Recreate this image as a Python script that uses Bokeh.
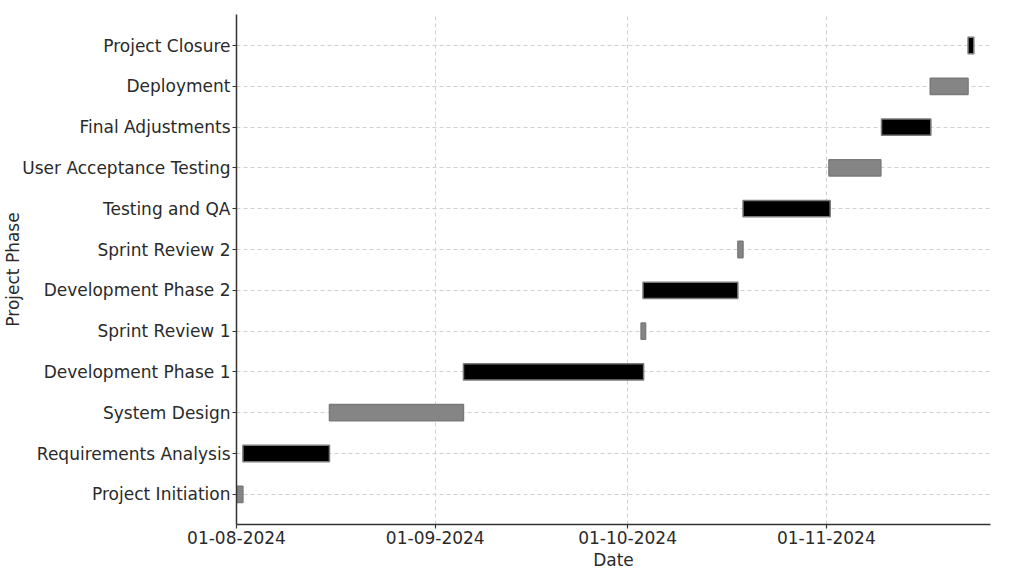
from datetime import datetime, timedelta
import pandas as pd
from bokeh.plotting import figure
from bokeh.models import ColumnDataSource, FixedTicker, DatetimeTickFormatter, Range1d
from bokeh.embed import file_html
from bokeh.resources import INLINE

phases = [
    "Project Initiation", "Requirements Analysis", "System Design",
    "Development Phase 1", "Sprint Review 1", "Development Phase 2",
    "Sprint Review 2", "Testing and QA", "User Acceptance Testing",
    "Final Adjustments", "Deployment", "Project Closure",
]
# days after 2024-08-01
start_days = [0.0, 1.0, 14.5, 35.4, 63.1, 63.4, 78.2, 79.0, 92.4, 100.6, 108.2, 114.1]
end_days = [1.0, 14.5, 35.4, 63.5, 63.8, 78.2, 79.0, 92.6, 100.5, 108.3, 114.1, 115.0]
bar_colors = ["#858585", "#000000", "#858585", "#000000", "#858585", "#000000",
              "#858585", "#000000", "#858585", "#000000", "#858585", "#000000"]
tick_dates = ["2024-08-01", "2024-09-01", "2024-10-01", "2024-11-01"]

base = datetime(2024, 8, 1)
x_end_days = 117.6

src = ColumnDataSource(dict(
    y=list(range(len(phases))),
    left=[base + timedelta(days=d) for d in start_days],
    right=[base + timedelta(days=d) for d in end_days],
    color=bar_colors,
))

p = figure(
    x_axis_type="datetime",
    frame_width=754, frame_height=510,
    x_range=Range1d(base, base + timedelta(days=x_end_days)),
    y_range=Range1d(-0.74, 11.76),
    output_backend="svg", toolbar_location=None,
    min_border_left=228, min_border_top=14, min_border_right=10, min_border_bottom=0,
)
p.outline_line_color = None
p.background_fill_color = "white"
p.border_fill_color = "white"

p.hbar(y="y", left="left", right="right", height=0.4, source=src,
       fill_color="color", line_color="#7a7a7a", line_width=1.5)

tick_ms = [pd.Timestamp(d).value / 1e6 for d in tick_dates]
p.xaxis.ticker = FixedTicker(ticks=tick_ms)
fmt = "%d-%m-%Y"
p.xaxis.formatter = DatetimeTickFormatter(
    microseconds=fmt, milliseconds=fmt, seconds=fmt, minsec=fmt, minutes=fmt,
    hourmin=fmt, hours=fmt, days=fmt, months=fmt, years=fmt)
p.yaxis.ticker = FixedTicker(ticks=list(range(len(phases))))
p.yaxis.major_label_overrides = {i: name for i, name in enumerate(phases)}

p.xaxis.axis_label = "Date"
p.yaxis.axis_label = "Project Phase"

for ax in (p.xaxis[0], p.yaxis[0]):
    ax.axis_line_color = "#333333"
    ax.axis_line_width = 1.5
    ax.major_tick_line_color = "#333333"
    ax.major_tick_line_width = 1.2
    ax.major_tick_out = 4
    ax.major_tick_in = 0
    ax.minor_tick_line_color = None
    ax.major_label_text_font = "DejaVu Sans"
    ax.major_label_text_font_size = "17px"
    ax.major_label_text_color = "#2a2a2a"
    ax.axis_label_text_font = "DejaVu Sans"
    ax.axis_label_text_font_size = "17px"
    ax.axis_label_text_font_style = "normal"
    ax.axis_label_text_color = "#2a2a2a"

p.yaxis.major_label_standoff = 2
p.yaxis.axis_label_standoff = -4
p.xaxis.major_label_standoff = 2
p.xaxis.axis_label_standoff = 3

for g in (p.xgrid[0], p.ygrid[0]):
    g.grid_line_color = "#d0d0d0"
    g.grid_line_dash = "4 3"
    g.grid_line_width = 1

open("out.html", "w").write(file_html(p, INLINE))
